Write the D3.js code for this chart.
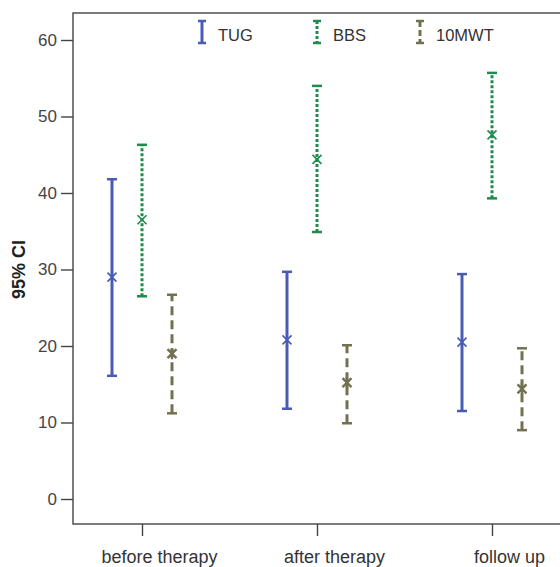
<!DOCTYPE html>
<html>
<head>
<meta charset="utf-8">
<script src="https://cdn.jsdelivr.net/npm/d3@7"></script>
<style>
  html, body { margin: 0; padding: 0; background: #fff; }
  svg { display: block; font-family: "Liberation Sans", Arial, sans-serif; }
</style>
</head>
<body>
<svg id="chart" width="560" height="567"></svg>
<script>
// Time points on the x axis
const phases = ["before therapy", "after therapy", "follow up"];
// Outcome measures
const measures = ["TUG", "BBS", "10MWT"];
// 95% confidence intervals: mean, lower, upper per phase
const tugMean  = [29.0, 20.8, 20.5];
const tugLow   = [16.1, 11.8, 11.5];
const tugHigh  = [41.8, 29.7, 29.4];
const bbsMean  = [36.5, 44.4, 47.6];
const bbsLow   = [26.5, 34.9, 39.3];
const bbsHigh  = [46.3, 54.0, 55.7];
const mwtMean  = [19.0, 15.2, 14.4];
const mwtLow   = [11.2, 9.9, 9.0];
const mwtHigh  = [26.7, 20.1, 19.7];
const yTicks   = [0, 10, 20, 30, 40, 50, 60];

const series = [
  { name: measures[0], mean: tugMean, low: tugLow, high: tugHigh, color: "#4a5bb4", dash: null, legendDash: null, marker: "x" },
  { name: measures[1], mean: bbsMean, low: bbsLow, high: bbsHigh, color: "#1f8b4c", dash: "3,2", legendDash: "3,2", marker: "x" },
  { name: measures[2], mean: mwtMean, low: mwtLow, high: mwtHigh, color: "#727252", dash: "9,5", legendDash: "6,3", marker: "star" }
];

const svg = d3.select("#chart");
const frame = { left: 73, top: 13, right: 575, bottom: 524 };

const x = d3.scalePoint().domain(phases).range([142, 492]);
const offset = d3.scalePoint().domain(measures).range([-30, 30]);
const y = d3.scaleLinear().domain([0, 60]).range([499, 40]);

// Frame
svg.append("rect")
  .attr("x", frame.left).attr("y", frame.top)
  .attr("width", frame.right - frame.left).attr("height", frame.bottom - frame.top)
  .attr("fill", "none").attr("stroke", "#444").attr("stroke-width", 1.4);

// Y axis
const yAxis = svg.append("g")
  .attr("transform", `translate(${frame.left},0)`)
  .call(d3.axisLeft(y).tickValues(yTicks).tickSize(12).tickPadding(4));
yAxis.select(".domain").remove();
yAxis.selectAll(".tick line").attr("stroke", "#444").attr("stroke-width", 1.4);
yAxis.selectAll(".tick text").attr("fill", "#444").style("font-size", "17px");

// X axis (category labels sit slightly right of their ticks)
const xAxis = svg.append("g")
  .attr("transform", `translate(0,${frame.bottom})`)
  .call(d3.axisBottom(x).tickSize(12).tickPadding(14));
xAxis.select(".domain").remove();
xAxis.selectAll(".tick line").attr("stroke", "#444").attr("stroke-width", 1.4);
xAxis.selectAll(".tick text").attr("fill", "#333").attr("dx", 17).style("font-size", "18px");

// Y axis title
svg.append("text")
  .attr("transform", `translate(25,${(y(0) + y(60)) / 2}) rotate(-90)`)
  .attr("text-anchor", "middle")
  .style("font-size", "18px").style("font-weight", "bold").attr("fill", "#222")
  .text("95% CI");

const capW = 5;

function drawMarker(g, cx, cy, s) {
  const k = 4.5;
  g.append("path")
    .attr("d", `M${cx - k},${cy - k}L${cx + k},${cy + k}M${cx - k},${cy + k}L${cx + k},${cy - k}` +
      (s.marker === "star" ? `M${cx},${cy - k - 1}L${cx},${cy + k + 1}` : ""))
    .attr("stroke", s.color).attr("stroke-width", s.marker === "star" ? 2.4 : 1.6).attr("fill", "none");
}

// Error bars
series.forEach(s => {
  const g = svg.append("g");
  phases.forEach((p, i) => {
    const cx = x(p) + offset(s.name);
    g.append("line")
      .attr("x1", cx).attr("x2", cx)
      .attr("y1", y(s.low[i])).attr("y2", y(s.high[i]))
      .attr("stroke", s.color).attr("stroke-width", 3)
      .attr("stroke-dasharray", s.dash);
    [s.low[i], s.high[i]].forEach(v => {
      g.append("line")
        .attr("x1", cx - capW).attr("x2", cx + capW)
        .attr("y1", y(v)).attr("y2", y(v))
        .attr("stroke", s.color).attr("stroke-width", 2.5);
    });
    drawMarker(g, cx, y(s.mean[i]), s);
  });
});

// Legend
const legendX = [202, 317, 420];
series.forEach((s, i) => {
  const lx = legendX[i], top = 21, bot = 43;
  const g = svg.append("g");
  g.append("line").attr("x1", lx).attr("x2", lx).attr("y1", top).attr("y2", bot)
    .attr("stroke", s.color).attr("stroke-width", 3).attr("stroke-dasharray", s.legendDash);
  [top, bot].forEach(v => g.append("line").attr("x1", lx - 4).attr("x2", lx + 4).attr("y1", v).attr("y2", v)
    .attr("stroke", s.color).attr("stroke-width", 2.5));
  g.append("text").attr("x", lx + 16).attr("y", 41)
    .style("font-size", "16.5px").attr("fill", "#333").text(s.name);
});
</script>
</body>
</html>
